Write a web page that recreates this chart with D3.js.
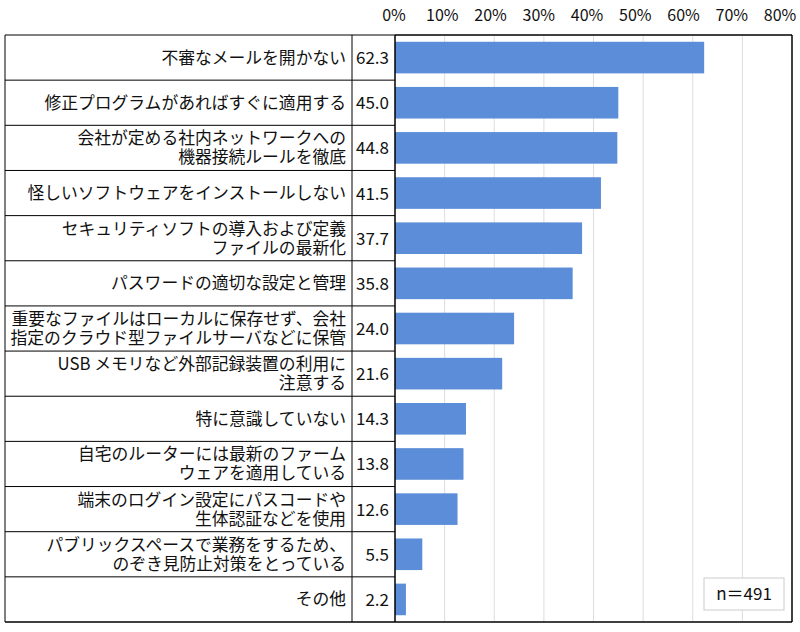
<!DOCTYPE html><html><head><meta charset="utf-8"><script src="https://cdn.jsdelivr.net/npm/d3@7"></script>
<style>body{margin:0;background:#fff}text{font-family:"Noto Sans CJK JP",sans-serif;fill:#111}</style></head><body><svg id="c" width="800" height="632"></svg><script>
const labels=[["不審なメールを開かない"],["修正プログラムがあればすぐに適用する"],["会社が定める社内ネットワークへの","機器接続ルールを徹底"],["怪しいソフトウェアをインストールしない"],["セキュリティソフトの導入および定義","ファイルの最新化"],["パスワードの適切な設定と管理"],["重要なファイルはローカルに保存せず、会社","指定のクラウド型ファイルサーバなどに保管"],["USB メモリなど外部記録装置の利用に","注意する"],["特に意識していない"],["自宅のルーターには最新のファーム","ウェアを適用している"],["端末のログイン設定にパスコードや","生体認証などを使用"],["パブリックスペースで業務をするため、","のぞき見防止対策をとっている"],["その他"]];
const values=[62.3,45.0,44.8,41.5,37.7,35.8,24.0,21.6,14.3,13.8,12.6,5.5,2.2];
const ticks=[0,10,20,30,40,50,60,70,80];
const svg=d3.select("#c");
const x=d3.scaleLinear().domain([0,80]).range([395,792]);
const xt=d3.scaleLinear().domain([0,80]).range([394,780]);
const y=d3.scaleBand().domain(d3.range(values.length)).range([35,622]).paddingInner(0.3).paddingOuter(0.15);
const rowH=(622-35)/values.length;
svg.selectAll(".g").data(ticks.slice(1,-1)).enter().append("line").attr("x1",d=>x(d)).attr("x2",d=>x(d)).attr("y1",35).attr("y2",622).attr("stroke","#ddd");
svg.selectAll(".t").data(ticks).enter().append("text").attr("x",d=>xt(d)).attr("y",21).attr("text-anchor","middle").attr("font-size",16).text(d=>d+"%");
svg.selectAll(".b").data(values).enter().append("rect").attr("x",x(0)).attr("y",(d,i)=>y(i)).attr("height",y.bandwidth()).attr("width",d=>x(d)-x(0)).attr("fill","#5b8dd9");
const g=svg.append("g");
values.forEach((v,i)=>{const top=35+i*rowH,cy=top+rowH/2;
 g.append("line").attr("x1",5).attr("x2",395).attr("y1",top).attr("y2",top).attr("stroke","#000");
 const L=labels[i];L.forEach((s,k)=>g.append("text").attr("x",346).attr("y",cy+6+(k-(L.length-1)/2)*19).attr("text-anchor","end").attr("font-size",16.8).text(s));
 g.append("text").attr("x",389).attr("y",cy+6.5).attr("text-anchor","end").attr("font-size",17).text(v.toFixed(1));
});
g.append("line").attr("x1",5).attr("x2",792).attr("y1",622).attr("y2",622).attr("stroke","#000").attr("stroke-width",1.5);
g.append("line").attr("x1",395).attr("x2",792).attr("y1",35).attr("y2",35).attr("stroke","#000").attr("stroke-width",1.5);
[[5,1],[352,1],[395,1.5],[792,1.5]].forEach(([xx,w])=>g.append("line").attr("x1",xx).attr("x2",xx).attr("y1",35).attr("y2",622).attr("stroke","#000").attr("stroke-width",w));
svg.append("rect").attr("x",704).attr("y",578).attr("width",80).attr("height",32).attr("fill","#fff").attr("stroke","#ccc");
svg.append("text").attr("x",744).attr("y",600).attr("text-anchor","middle").attr("font-size",17).text("n＝491");
</script></body></html>
